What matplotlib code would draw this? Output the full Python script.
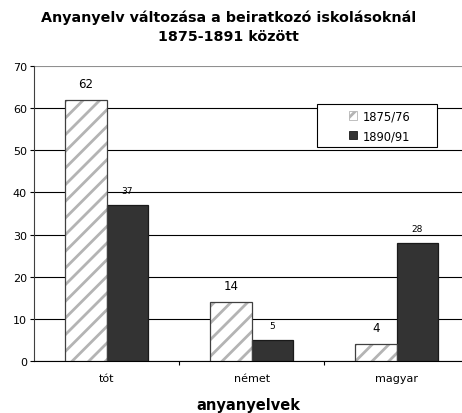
import numpy as np
import matplotlib.pyplot as plt
import matplotlib as mpl

plt.rcParams['font.family'] = ['DejaVu Sans']
mpl.rcParams['hatch.linewidth'] = 2.0

categories = ['tót', 'német', 'magyar']
years = ['1875/76', '1890/91']
vals_1875 = [62, 14, 4]
vals_1890 = [37, 5, 28]

W, H = 462, 414
fig = plt.figure(figsize=(W / 100, H / 100), dpi=100)
ax = fig.add_axes([34 / W, 52 / H, 428 / W, 295 / H])

x = np.arange(len(categories))
w = 0.286
# hatched fill in light grey, then outline on top
ax.bar(x - w / 2, vals_1875, w, color='white', edgecolor='#b4b4b4',
       hatch='//', linewidth=0, zorder=3)
ax.bar(x - w / 2, vals_1875, w, fill=False, edgecolor='#404040',
       linewidth=0.9, zorder=4)
ax.bar(x + w / 2, vals_1890, w, color='#333333', edgecolor='#1a1a1a',
       linewidth=0.9, zorder=3)

for xi, v in zip(x - w / 2, vals_1875):
    ax.text(xi, v + 2.4, str(v), ha='center', va='bottom', fontsize=8.5)
for xi, v in zip(x + w / 2, vals_1890):
    ax.text(xi, v + 2.4, str(v), ha='center', va='bottom', fontsize=6.5)

ax.set_ylim(0, 70)
ax.set_xlim(-0.5, 2.45)
ax.set_yticks(range(0, 71, 10))
ax.yaxis.grid(True, color='black', linewidth=0.8)
ax.get_ygridlines()[-1].set_color('#909090')
ax.set_axisbelow(True)
ax.set_xticks(x)
ax.set_xticklabels(categories, fontsize=8)
ax.set_xticks([0.5, 1.5], minor=True)
ax.tick_params(axis='x', which='major', length=0, pad=9)
ax.tick_params(axis='x', which='minor', length=3, width=0.8)
ax.tick_params(axis='y', labelsize=8, length=3, width=0.8, pad=2)
for s in ['top', 'right']:
    ax.spines[s].set_visible(False)
ax.spines['left'].set_color('#404040')
ax.spines['bottom'].set_color('black')

ax.set_xlabel('anyanyelvek', fontsize=10.5, fontweight='bold', labelpad=10)

fig.text(0.494, 1 - 18 / H, 'Anyanyelv változása a beiratkozó iskolásoknál',
         ha='center', va='center', fontsize=10.3, fontweight='bold')
fig.text(0.494, 1 - 37 / H, '1875-1891 között',
         ha='center', va='center', fontsize=10.3, fontweight='bold')

# legend box (drawn separately so it can be wider than its content)
box = mpl.patches.Rectangle((317 / W, 1 - 148 / H), 120 / W, 43 / H,
                            transform=fig.transFigure, facecolor='white',
                            edgecolor='black', linewidth=0.8, zorder=5)
fig.add_artist(box)
h1 = mpl.patches.Patch(facecolor='white', edgecolor='#b4b4b4', hatch='//')
h2 = mpl.patches.Patch(facecolor='#333333', edgecolor='#1a1a1a')
leg = fig.legend([h1, h2], years, loc='center',
                 bbox_to_anchor=(380 / W, 1 - 127 / H),
                 fontsize=8.3, frameon=False, handlelength=0.7,
                 handleheight=0.7, handletextpad=0.5, borderpad=0,
                 labelspacing=0.6)
leg.set_zorder(6)
for p in leg.get_patches():
    p.set_linewidth(0.6)

fig.savefig('out.png', dpi=100)
